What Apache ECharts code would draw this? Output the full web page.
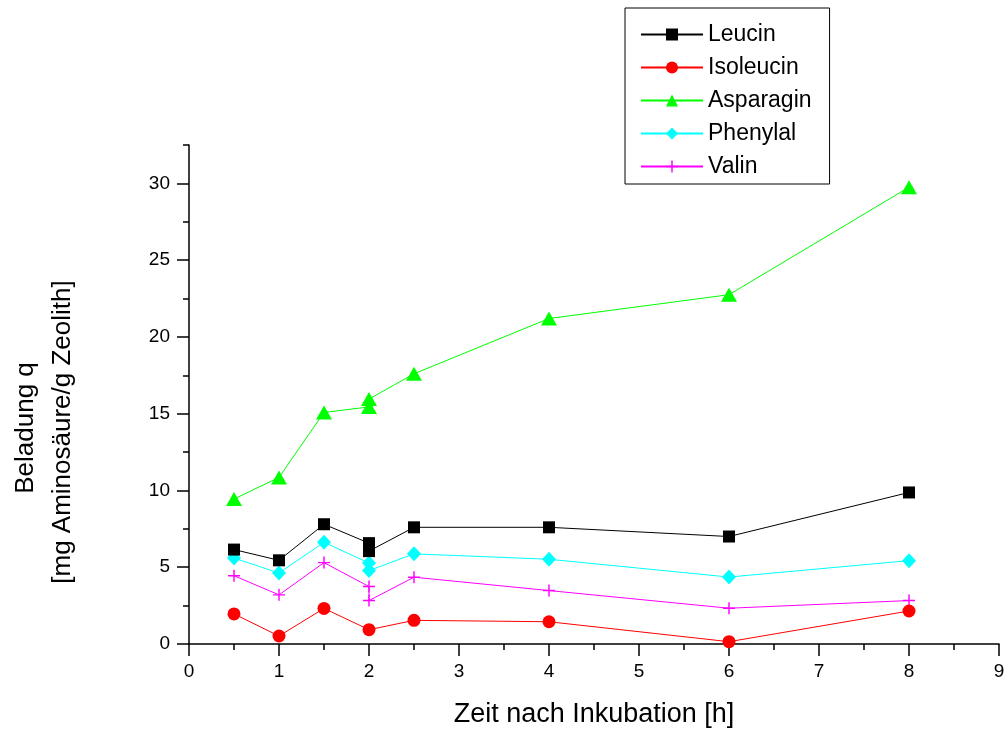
<!DOCTYPE html>
<html>
<head>
<meta charset="utf-8">
<script src="https://cdn.jsdelivr.net/npm/echarts@6/dist/echarts.min.js"></script>
<style>
html,body{margin:0;padding:0;background:#fff;}
#main{width:1005px;height:731px;}
</style>
</head>
<body>
<div id="main"></div>
<script>
// ---- data ----
const seriesNames = ['Leucin', 'Isoleucin', 'Asparagin', 'Phenylal', 'Valin'];
const xTime = [0.5, 1, 1.5, 2, 2, 2.5, 4, 6, 8];
const xTimeIso = [0.5, 1, 1.5, 2, 2.5, 4, 6, 8];
const leucin = [6.15, 5.45, 7.8, 6.57, 6.05, 7.6, 7.6, 7.0, 9.87];
const isoleucin = [1.96, 0.52, 2.32, 0.93, 1.54, 1.45, 0.15, 2.15];
const asparagin = [9.44, 10.85, 15.08, 15.44, 15.95, 17.6, 21.2, 22.75, 29.75];
const phenylal = [5.6, 4.62, 6.63, 5.27, 4.78, 5.87, 5.52, 4.36, 5.43];
const valin = [4.45, 3.2, 5.3, 3.74, 2.83, 4.35, 3.48, 2.33, 2.83];
const xMajorTicks = [0, 1, 2, 3, 4, 5, 6, 7, 8, 9];
const xMinorTicks = [0.5, 1.5, 2.5, 3.5, 4.5, 5.5, 6.5, 7.5, 8.5];
const yMajorTicks = [0, 5, 10, 15, 20, 25, 30];
const yMinorTicks = [2.5, 7.5, 12.5, 17.5, 22.5, 27.5, 32.5];
const xTitle = 'Zeit nach Inkubation [h]';
const yTitle1 = 'Beladung q';
const yTitle2 = '[mg Aminosäure/g Zeolith]';

const pair = (xs, ys) => xs.map((x, i) => [x, ys[i]]);

const FONT = '"Liberation Sans", Arial, sans-serif';
const plusPath = 'path://M4.4,0h1.2v10h-1.2zM0,4.4h10v1.2h-10z';

const styles = [
  {color: '#000000', symbol: 'rect', size: 12},
  {color: '#ff0000', symbol: 'circle', size: 13},
  {color: '#00ff00', symbol: 'triangle', size: [16, 14]},
  {color: '#00ffff', symbol: 'diamond', size: [14, 15]},
  {color: '#ff00ff', symbol: plusPath, size: 12}
];
const dataSets = [
  pair(xTime, leucin),
  pair(xTimeIso, isoleucin),
  pair(xTime, asparagin),
  pair(xTime, phenylal),
  pair(xTime, valin)
];

const axisLineStyle = {color: '#000', width: 1.5};

const chart = echarts.init(document.getElementById('main'), null, {renderer: 'canvas'});
chart.setOption({
  backgroundColor: '#fff',
  animation: false,
  textStyle: {fontFamily: FONT},
  grid: {left: 189, right: 6, top: 145, bottom: 87, outerBoundsMode: 'none'},
  legend: {
    orient: 'vertical',
    left: 625,
    top: 8,
    padding: [15, 18, 6, 15],
    borderColor: '#000',
    borderWidth: 1,
    itemWidth: 62,
    itemHeight: 15,
    itemGap: 10,
    textStyle: {fontFamily: FONT, fontSize: 23, color: '#000'},
    data: seriesNames
  },
  xAxis: [
    {
      type: 'value', min: 0, max: 9,
      name: xTitle, nameLocation: 'middle', nameGap: 57,
      nameTextStyle: {fontFamily: FONT, fontSize: 27, color: '#000'},
      axisLine: {show: true, onZero: false, lineStyle: axisLineStyle},
      axisTick: {show: true, length: 12, lineStyle: axisLineStyle, customValues: xMajorTicks},
      axisLabel: {show: true, margin: 18, fontFamily: FONT, fontSize: 19, color: '#000', customValues: xMajorTicks},
      splitLine: {show: false}
    },
    {
      type: 'value', min: 0, max: 9, position: 'bottom',
      axisLine: {show: false},
      axisTick: {show: true, length: 6, lineStyle: axisLineStyle, customValues: xMinorTicks},
      axisLabel: {show: false},
      splitLine: {show: false}
    }
  ],
  yAxis: [
    {
      type: 'value', min: 0, max: 32.5,
      axisLine: {show: true, onZero: false, lineStyle: axisLineStyle},
      axisTick: {show: true, length: 12, lineStyle: axisLineStyle, customValues: yMajorTicks},
      axisLabel: {show: true, margin: 19, fontFamily: FONT, fontSize: 19, color: '#000', customValues: yMajorTicks},
      splitLine: {show: false}
    },
    {
      type: 'value', min: 0, max: 32.5, position: 'left',
      axisLine: {show: false},
      axisTick: {show: true, length: 6, lineStyle: axisLineStyle, customValues: yMinorTicks},
      axisLabel: {show: false},
      splitLine: {show: false}
    }
  ],
  graphic: [
    {
      type: 'text', x: 26, y: 428, rotation: Math.PI / 2,
      style: {text: yTitle1, fontFamily: FONT, fontSize: 26, fill: '#000', align: 'center', verticalAlign: 'middle'}
    },
    {
      type: 'text', x: 63, y: 432, rotation: Math.PI / 2,
      style: {text: yTitle2, fontFamily: FONT, fontSize: 26, fill: '#000', align: 'center', verticalAlign: 'middle'}
    }
  ],
  series: seriesNames.map((name, i) => ({
    name: name,
    type: 'line',
    xAxisIndex: 0,
    yAxisIndex: 0,
    data: dataSets[i],
    symbol: styles[i].symbol,
    symbolSize: styles[i].size,
    showAllSymbol: true,
    lineStyle: {color: styles[i].color, width: 1},
    itemStyle: {color: styles[i].color, borderWidth: 0},
    emphasis: {disabled: true},
    z: 2 + (4 - i)
  }))
});
</script>
</body>
</html>
